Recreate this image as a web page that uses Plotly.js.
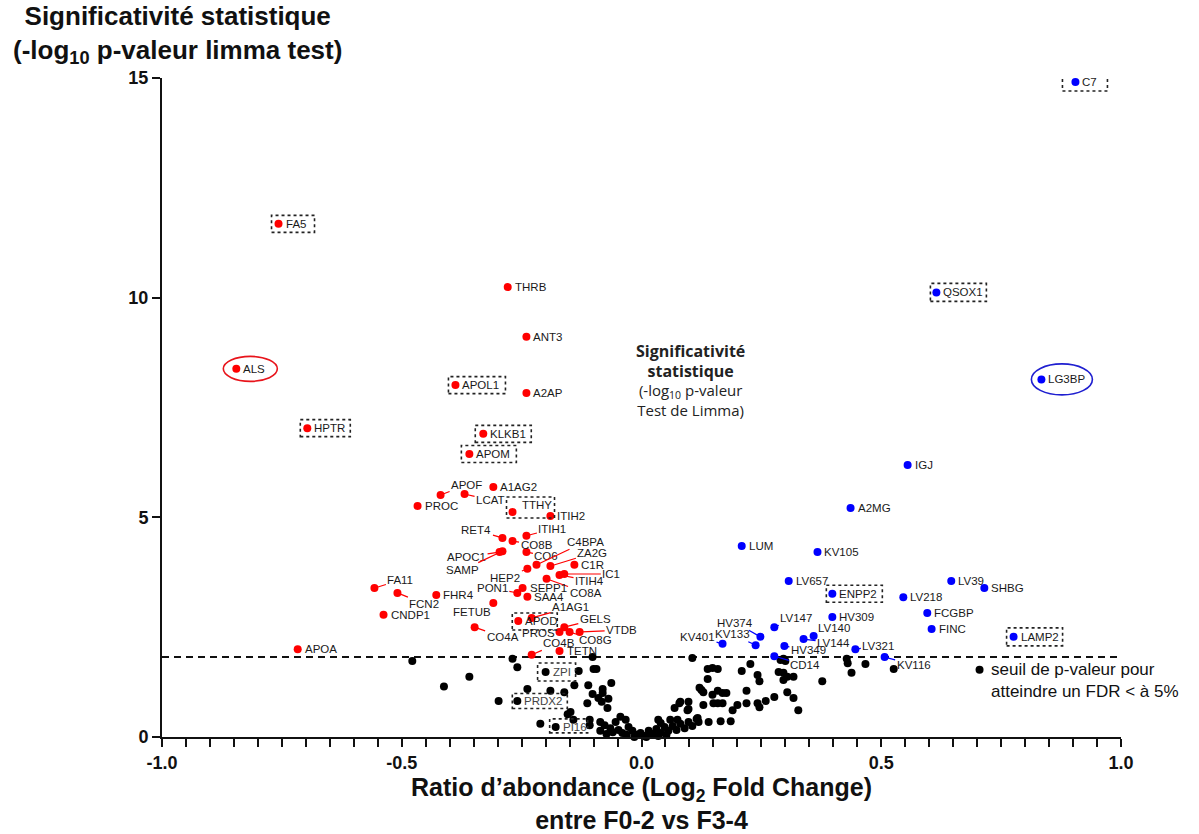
<!DOCTYPE html>
<html><head><meta charset="utf-8">
<script src="https://cdn.plot.ly/plotly-3.0.1.min.js"></script>
<style>body{margin:0;background:#fff}#chart{width:1199px;height:834px}</style>
</head><body><div id="chart"></div>
<script>
// ---------- DATA ----------
const redNames = ["FA5","ALS","HPTR","THRB","ANT3","APOL1","A2AP","KLKB1","APOM","A1AG2","APOF","LCAT","PROC","TTHY","ITIH2","RET4","ITIH1","CO8B","APOC1","SAMP","CO6","C4BPA","ZA2G","C1R","HEP2","IC1","ITIH4","CO8A","PON1","SEPP1","SAA4","FETUB","FA11","FCN2","FHR4","CNDP1","APOA","CO4A","A1AG1","APOD","GELS","VTDB","PROS","CO8G","CO4B","TETN"];
const redX = [-0.757,-0.845,-0.697,-0.279,-0.240,-0.388,-0.240,-0.330,-0.359,-0.309,-0.419,-0.369,-0.467,-0.269,-0.190,-0.290,-0.240,-0.269,-0.296,-0.290,-0.240,-0.219,-0.190,-0.140,-0.238,-0.161,-0.171,-0.198,-0.259,-0.248,-0.238,-0.309,-0.557,-0.509,-0.428,-0.538,-0.717,-0.348,-0.229,-0.257,-0.161,-0.129,-0.171,-0.150,-0.229,-0.171];
const redY = [11.68,8.38,7.03,10.24,9.11,8.01,7.83,6.90,6.44,5.69,5.51,5.53,5.26,5.12,5.03,4.53,4.58,4.46,4.21,4.23,4.21,3.92,3.89,3.92,3.83,3.71,3.69,3.60,3.28,3.39,3.19,3.05,3.39,3.28,3.23,2.78,2.00,2.50,2.71,2.64,2.50,2.39,2.39,2.39,1.87,1.96];

const blueNames = ["C7","QSOX1","LG3BP","IGJ","A2MG","LUM","KV105","LV657","ENPP2","HV309","LV147","LV140","LV144","HV374","KV133","KV401","HV349","CD14","LV321","KV116","LV218","LV39","SHBG","FCGBP","FINC","LAMP2"];
const blueX = [0.905,0.615,0.834,0.555,0.436,0.209,0.367,0.307,0.398,0.398,0.277,0.359,0.338,0.248,0.238,0.169,0.298,0.277,0.446,0.507,0.546,0.646,0.715,0.596,0.605,0.776];
const blueY = [14.91,10.12,8.14,6.19,5.21,4.35,4.21,3.55,3.26,2.73,2.50,2.30,2.23,2.28,2.09,2.12,2.07,1.84,2.00,1.82,3.18,3.55,3.39,2.82,2.46,2.28];

const blackLabNames = ["ZPI","PRDX2","PI16"];
const blackLabX = [-0.200,-0.259,-0.179];
const blackLabY = [1.48,0.82,0.23];

const blackX = [-0.478,-0.412,-0.359,-0.298,-0.269,-0.259,-0.238,-0.190,-0.161,-0.211,-0.102,-0.131,-0.100,-0.094,-0.140,-0.111,-0.063,-0.081,-0.081,-0.102,-0.090,-0.083,-0.069,-0.071,-0.113,-0.154,-0.148,-0.142,-0.108,-0.108,-0.086,-0.044,-0.033,
 -0.077,-0.065,-0.054,-0.048,-0.040,-0.027,-0.019,-0.010,-0.002,0.006,0.015,0.023,0.031,0.040,0.048,0.056,0.065,0.073,0.081,0.090,0.098,0.106,0.115,-0.086,-0.073,-0.060,-0.031,-0.015,0.010,0.035,0.052,
 0.035,0.040,0.081,0.069,0.096,0.075,0.060,0.117,0.119,0.140,0.129,0.125,0.121,0.129,
 0.106,0.138,0.148,0.159,0.138,0.159,0.169,0.177,0.148,0.150,0.159,0.169,0.098,0.079,0.098,0.165,0.186,0.200,0.190,0.219,0.209,0.227,0.242,0.246,0.219,0.242,0.259,0.246,0.277,0.317,0.327,0.304,0.286,0.296,0.304,0.317,0.296,0.290,0.296,0.300,0.377,0.428,0.430,0.438,0.467,0.526];
const blackY = [1.73,1.15,1.37,0.82,1.78,1.59,1.09,1.05,1.02,0.30,1.82,1.50,1.55,1.55,1.18,1.18,1.23,1.09,1.00,0.98,0.89,0.80,0.87,0.66,0.77,0.52,0.57,0.39,0.39,0.27,0.34,0.46,0.39,
 0.27,0.20,0.34,0.16,0.09,0.23,0.14,0.05,0.09,0.02,0.14,0.07,0.18,0.09,0.23,0.14,0.25,0.16,0.30,0.20,0.34,0.25,0.41,0.14,0.07,0.11,0.05,0.00,0.00,0.02,0.05,
 0.39,0.32,0.80,0.66,0.61,0.39,0.39,0.43,0.34,0.34,0.73,1.07,1.12,1.02,
 1.80,1.55,1.57,1.55,1.32,1.05,1.00,1.00,0.96,0.77,0.77,0.77,0.80,0.77,0.64,0.36,0.36,0.73,0.61,1.05,1.50,1.66,1.41,1.27,0.77,0.77,0.82,0.68,0.91,0.89,0.61,1.02,1.48,1.46,1.37,1.37,1.30,1.75,1.78,1.73,1.27,1.78,1.68,1.46,1.66,1.55];

const fdrThreshold = 1.82;
const legendDotX = [0.705];
const legendDotY = [1.53];

const xTickVals = [-1, -0.5, 0, 0.5, 1];
const xTickText = ["-1.0","-0.5","0.0","0.5","1.0"];
const yTickVals = [0, 5, 10, 15];
const yTickText = ["0","5","10","15"];

// ---------- LABEL STYLING (pixel offsets of label centre; absent = plain label to the right) ----------
const leader = {
  APOF:[26,-10], LCAT:[26,6], TTHY:[24,-7], RET4:[-26,-8], ITIH1:[26,-7], CO8B:[24,4], APOC1:[-33,5], SAMP:[-40,19],
  CO6:[20,4], C4BPA:[49,-23], ZA2G:[42,-13], HEP2:[-22,9], IC1:[47,0], ITIH4:[30,6], CO8A:[39,14], PON1:[-25,-5],
  FETUB:[-21,9], A1AG1:[39,-11], GELS:[31,-8], VTDB:[42,-2], PROS:[-21,1], CO8G:[26,8], CO4A:[28,10], CO4B:[27,-12],
  FA11:[26,-8], FCN2:[27,11],
  LV147:[22,-9], LV140:[20,-8], LV144:[30,4], HV374:[-25,-14], KV133:[-23,-11], KV401:[-25,-7], HV349:[24,4],
  CD14:[31,9], LV321:[23,-3], KV116:[29,8]
};
const noLine = {TTHY:true};
const boxes = {
  FA5:[-7,36,8.5,-8.5], HPTR:[-7,43,8.5,-8.5], APOL1:[-7,50,8.5,-8.5], KLKB1:[-8,48,8.5,-8.5], APOM:[-8,47,8.5,-8.5],
  TTHY:[-6,42,15,-6], APOD:[-6,39,8,-9], ZPI:[-8,30,9,-9], PRDX2:[-5,50,7.5,-7.5], PI16:[-6,32,8,-6],
  C7:[-13,32,9,-9], QSOX1:[-6,50,9,-9], ENPP2:[-6,50,8.5,-8.5], LAMP2:[-7,49,9,-9]
};
const ellipses = { ALS:[-13,41,12.5,-12.5,'#e8141b'], LG3BP:[-10,51,15.5,-15.5,'#1f1fd0'] };

const RED = '#ff0000', BLUE = '#0000ff', BLACK = '#000000';
const labelFont = {family:'Liberation Sans, Arial, sans-serif', size:11.5, color:'#1a1a1a'};

const traces = [
  {x:blackX, y:blackY, mode:'markers', type:'scatter', cliponaxis:false, marker:{color:BLACK, size:8}},
  {x:blackLabX, y:blackLabY, mode:'markers', type:'scatter', cliponaxis:false, marker:{color:BLACK, size:8}},
  {x:legendDotX, y:legendDotY, mode:'markers', type:'scatter', cliponaxis:false, marker:{color:BLACK, size:8}},
  {x:redX, y:redY, mode:'markers', type:'scatter', cliponaxis:false, marker:{color:RED, size:8}},
  {x:blueX, y:blueY, mode:'markers', type:'scatter', cliponaxis:false, marker:{color:BLUE, size:8}}
];

const annotations = [];
const shapes = [];
function addLabels(names, xs, ys, color, fontColor){
  names.forEach((n,i)=>{
    const f = Object.assign({}, labelFont, fontColor ? {color:fontColor} : {});
    if (leader[n] && !noLine[n]) {
      annotations.push({x:xs[i], y:ys[i], xref:'x', yref:'y', text:n, showarrow:true, ax:leader[n][0], ay:leader[n][1],
        arrowhead:0, arrowwidth:1.2, arrowcolor:color, standoff:2, font:f});
    } else if (leader[n]) {
      annotations.push({x:xs[i], y:ys[i], xref:'x', yref:'y', text:n, showarrow:false, xanchor:'center',
        xshift:leader[n][0], yshift:-leader[n][1], font:f});
    } else {
      annotations.push({x:xs[i], y:ys[i], xref:'x', yref:'y', text:n, showarrow:false, xanchor:'left', xshift:5, font:f});
    }
    if (boxes[n]) {
      const b = boxes[n];
      shapes.push({type:'rect', xref:'x', yref:'y', xsizemode:'pixel', ysizemode:'pixel', xanchor:xs[i], yanchor:ys[i],
        x0:b[0], x1:b[1], y0:b[3], y1:b[2], line:{color:'#222', width:1.6, dash:'3px,3px'}});
    }
    if (ellipses[n]) {
      const e = ellipses[n];
      shapes.push({type:'circle', xref:'x', yref:'y', xsizemode:'pixel', ysizemode:'pixel', xanchor:xs[i], yanchor:ys[i],
        x0:e[0], x1:e[1], y0:e[3], y1:e[2], line:{color:e[4], width:1.6}});
    }
  });
}
addLabels(redNames, redX, redY, RED);
addLabels(blueNames, blueX, blueY, BLUE);
addLabels(blackLabNames, blackLabX, blackLabY, BLACK, '#444');

shapes.push({type:'line', xref:'x', yref:'y', x0:-1, x1:0.995, y0:fdrThreshold, y1:fdrThreshold,
  line:{color:'#111', width:2, dash:'7px,5px'}, layer:'below'});

annotations.push({xref:'x', yref:'y', x:legendDotX[0], y:legendDotY[0], xanchor:'left', yanchor:'top', xshift:9, yshift:12,
  align:'left', showarrow:false, text:'seuil de p-valeur pour<br>atteindre un FDR &lt; à 5%',
  font:{family:'Liberation Sans, Arial, sans-serif', size:17, color:'#111'}});

annotations.push({xref:'x', yref:'y', x:0.102, y:8.12, showarrow:false, align:'center',
  text:'<span style="font-size:16px"><b>Significativité</b></span><br><span style="font-size:16px"><b>statistique</b></span><br>(-log<sub>10</sub> p-valeur<br>Test de Limma)',
  font:{family:'Open Sans, Noto Sans, sans-serif', size:15, color:'#222'}});

annotations.push({xref:'paper', yref:'paper', x:0, y:1, xanchor:'center', yanchor:'bottom', yshift:8, xshift:15,
  showarrow:false, align:'center',
  text:'<b>Significativité statistique</b><br><b>(-log<sub>10</sub> p-valeur limma test)</b>',
  font:{family:'Liberation Sans, Arial, sans-serif', size:26, color:'#111'}});

const tickFont = {family:'Liberation Sans Narrow, Arial Narrow, Liberation Sans, Arial, sans-serif', size:18, color:'#111', weight:'bold'};

const layout = {
  width:1199, height:834,
  margin:{l:162, r:78, t:78, b:97},
  paper_bgcolor:'#fff', plot_bgcolor:'#fff',
  showlegend:false,
  xaxis:{range:[-1,1], tickvals:xTickVals, ticktext:xTickText, ticks:'outside', ticklen:8, tickwidth:2, tickcolor:'#111',
    showline:true, linecolor:'#111', linewidth:2, showgrid:false, zeroline:false, tickfont:tickFont,
    minor:{dtick:0.05, tick0:0, ticks:'outside', ticklen:8, tickwidth:2, tickcolor:'#111', showgrid:false},
    title:{text:'<b>Ratio d’abondance (Log<sub>2</sub> Fold Change)<br>entre F0-2 vs F3-4</b>', standoff:14,
      font:{family:'Liberation Sans Narrow, Arial Narrow, Liberation Sans, Arial, sans-serif', size:25, color:'#111'}}},
  yaxis:{range:[0,15], tickvals:yTickVals, ticktext:yTickText, ticks:'outside', ticklen:8, tickwidth:2, tickcolor:'#111',
    showline:true, linecolor:'#111', linewidth:2, showgrid:false, zeroline:false, tickfont:tickFont},
  annotations:annotations, shapes:shapes
};

Plotly.newPlot('chart', traces, layout, {displayModeBar:false, staticPlot:true});
</script></body></html>
